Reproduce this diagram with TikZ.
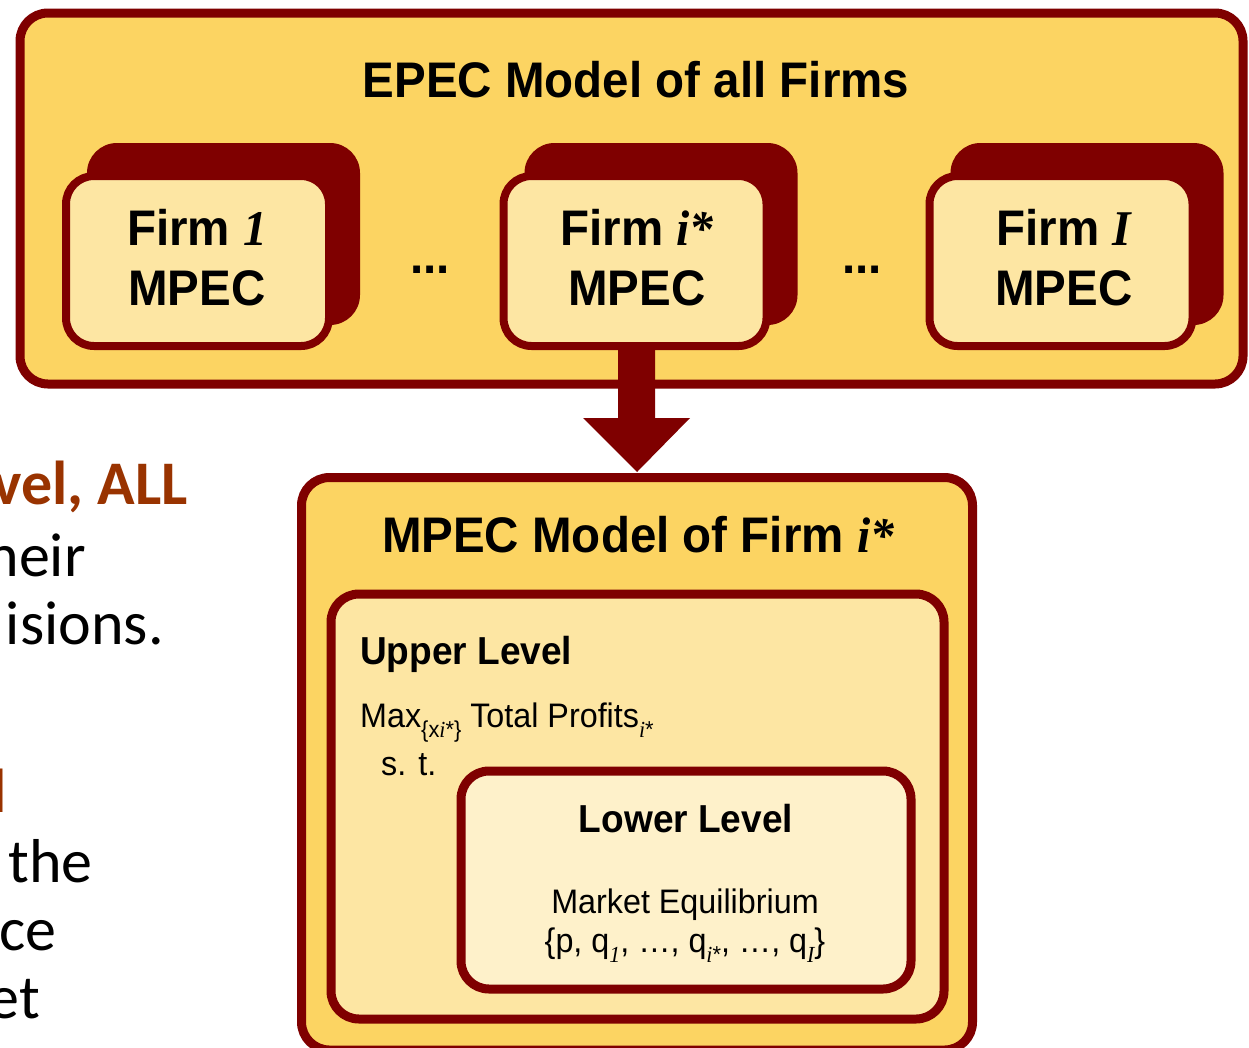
\documentclass[tikz,border=0pt]{standalone}
\usepackage{fontspec}
\setmainfont{Liberation Sans}[FakeStretch=0.95]
\newfontfamily\serifit{Liberation Serif}[FakeStretch=0.95]
\newfontfamily\calfont{Carlito}
\usetikzlibrary{calc}
\definecolor{dred}{HTML}{7F0000}
\definecolor{gold}{HTML}{FCD462}
\definecolor{cream}{HTML}{FDE6A3}
\definecolor{pale}{HTML}{FEF1CA}
\definecolor{rust}{HTML}{993300}
\newcommand\mysub[1]{\raisebox{-0.3em}{\fontsize{23}{23}\selectfont #1}}
\newcommand\emvar[1]{{\serifit\bfseries\itshape #1}}
\newcommand\smvar[1]{{\serifit\itshape #1}}
\tikzset{
  box/.style={draw=dred, rounded corners=28pt, inner sep=0pt},
  outerbox/.style={box, line width=9pt, fill=gold},
  frontbox/.style={box, line width=8pt, fill=cream, minimum width=263pt, minimum height=170pt},
  shadowbox/.style={fill=dred, rounded corners=30pt, inner sep=0pt, minimum width=273pt, minimum height=182pt},
  bigtxt/.style={inner sep=0pt, anchor=base, font=\bfseries\fontsize{50}{58}\selectfont},
  midtxt/.style={inner sep=0pt, anchor=base, font=\bfseries\fontsize{39}{46}\selectfont},
  smtxt/.style={inner sep=0pt, anchor=base, font=\fontsize{34}{40}\selectfont},
  sidetxt/.style={inner sep=0pt, anchor=base east, font=\calfont\fontsize{62}{70}\selectfont},
}
\begin{document}
\begin{tikzpicture}[x=1pt,y=-1pt]
\useasboundingbox[fill=white] (0,0) rectangle (1249,1047);

% outer EPEC box
\node[outerbox, minimum width=1223pt, minimum height=371pt] (epec) at (631.5,198.5) {};
\node[bigtxt] (epect) at (636,97) {EPEC Model of all Firms};

% shadows
\node[shadowbox] (s1) at (223.5,234) {};
\node[shadowbox] (si) at (661,234) {};
\node[shadowbox] (sI) at (1087,234) {};

% MPEC box
\node[outerbox, minimum width=671pt, minimum height=572.5pt] (mpec) at (637,763.75) {};

% arrow from firm i* to MPEC box
\coordinate (atip) at (mpec.north);
\fill[dred] ($(atip)+(-19,-127)$) -- ($(atip)+(18,-127)$) -- ($(atip)+(18,-55)$)
  -- ($(atip)+(53,-55)$) -- ($(atip)+(0,-1)$) -- ($(atip)+(-54,-55)$)
  -- ($(atip)+(-19,-55)$) -- cycle;

% firm front boxes
\node[frontbox] (f1) at (197.5,261) {};
\node[frontbox] (fi) at (635,261) {};
\node[frontbox] (fI) at (1061,261) {};

\node[bigtxt] (f1a) at (197,245) {Firm \emvar{1}};
\node[bigtxt] (f1b) at (197,305) {MPEC};
\node[bigtxt] (fia) at (637,245) {Firm \emvar{i*}};
\node[bigtxt] (fib) at (637,305) {MPEC};
\node[bigtxt] (fIa) at (1064,245) {Firm \emvar{I}};
\node[bigtxt] (fIb) at (1064,305) {MPEC};

\node[bigtxt] (d1) at (430,273) {...};
\node[bigtxt] (d2) at (862,273) {...};

% MPEC contents
\node[bigtxt] (mpect) at (638,552) {MPEC Model of Firm \emvar{i*}};
\node[box, line width=9pt, fill=cream, minimum width=613pt, minimum height=425pt] (upper) at (637.5,806.5) {};
\node[midtxt, anchor=base west] (uppert) at (360,664) {Upper Level};
\node[smtxt, anchor=base west] (maxt) at (360,727) {Max\mysub{\{x\smvar{i}*\}} Total Profits\mysub{\smvar{i}*}};
\node[smtxt, anchor=base west] (st) at (381,775) {s. t.};

\node[box, line width=9pt, fill=pale, minimum width=450pt, minimum height=218pt] (lower) at (686,880) {};
\node[midtxt] (lowert) at (686,832) {Lower Level};
\node[smtxt] (mkt) at (685,913) {Market Equilibrium};
\node[smtxt] (set) at (685,952) {\{p, q\mysub{\smvar{1}}, \dots, q\mysub{\smvar{i}*}, \dots, q\mysub{\smvar{I}}\}};

% side text fragments
\node[sidetxt, text=rust, font=\calfont\bfseries\fontsize{62}{70}\selectfont] (sa) at (188,504) {vel, ALL};
\node[sidetxt] (sb) at (86,576) {heir};
\node[sidetxt] (sc) at (164,644) {isions.};
\node[sidetxt, text=rust, font=\calfont\bfseries\fontsize{62}{70}\selectfont] (sd) at (7,812) {l};
\node[sidetxt] (se) at (93,882) {the};
\node[sidetxt] (sf) at (57,950) {ce};
\node[sidetxt] (sg) at (40,1018) {et};
\end{tikzpicture}
\end{document}
